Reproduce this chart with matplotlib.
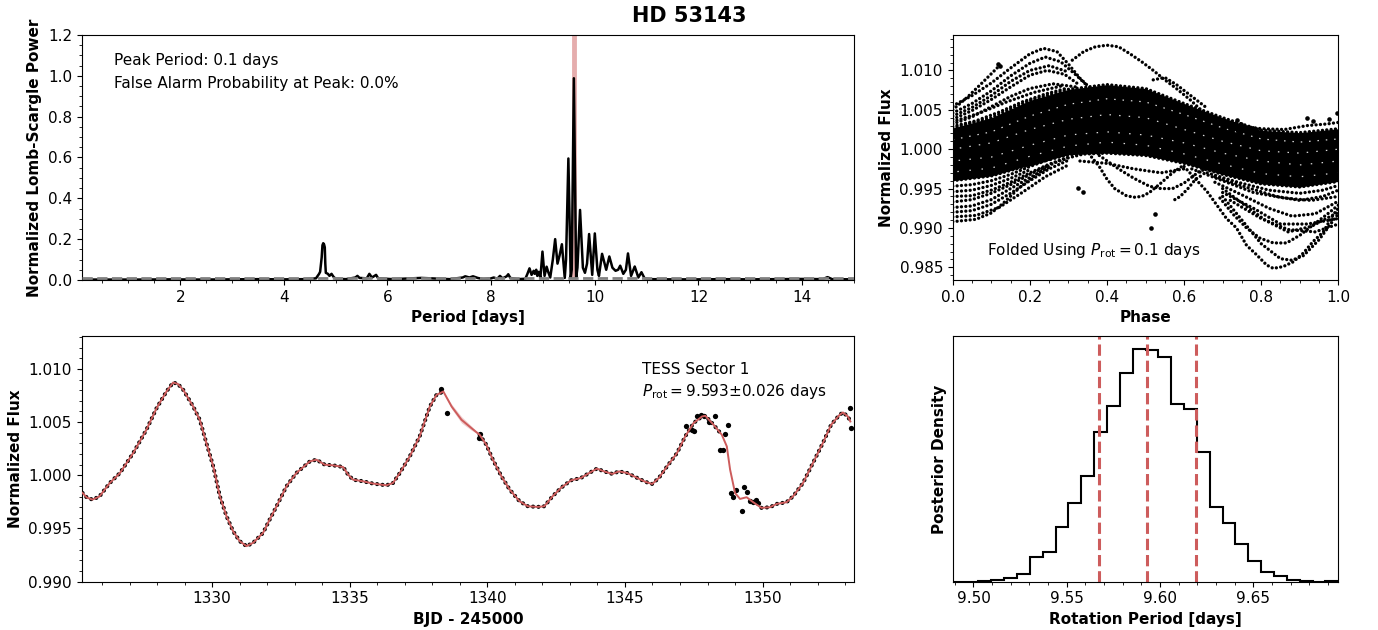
import numpy as np
import matplotlib
matplotlib.use("Agg")
import matplotlib.pyplot as plt
from matplotlib.ticker import AutoMinorLocator, FormatStrFormatter

# ---------------- data ----------------
star_name = "HD 53143"
peak_period_text = 0.1
fap_text = 0.0
prot = 9.593
prot_err = 0.026
prot_lo = 9.567
prot_hi = 9.619
fap_level = 0.01

# Lomb-Scargle periodogram (period [days], normalized power)
ls_period = [0.10, 0.6, 1.2, 1.8, 2.4, 3.0, 3.5, 4.0, 4.4, 4.62, 4.68, 4.70, 4.73, 4.745, 4.76,
             4.775, 4.79, 4.80, 4.81, 4.85, 4.88, 4.92, 4.96, 5.00, 5.2, 5.38, 5.42, 5.46, 5.60,
             5.65, 5.70, 5.75, 5.78, 5.82, 6.1, 6.65, 7.2, 7.45, 7.50, 7.58, 7.65, 7.74, 7.85,
             8.00, 8.05, 8.12, 8.17, 8.22, 8.30, 8.33, 8.37, 8.50, 8.66, 8.70, 8.74, 8.78, 8.82,
             8.84, 8.87, 8.89, 8.92, 8.95, 8.99, 9.03, 9.07, 9.10, 9.14, 9.19, 9.235, 9.28, 9.32,
             9.365, 9.42, 9.445, 9.49, 9.535, 9.555, 9.596, 9.64, 9.665, 9.715, 9.77, 9.81, 9.85,
             9.89, 9.95, 10.00, 10.05, 10.08, 10.14, 10.22, 10.28, 10.34, 10.40, 10.45, 10.49,
             10.55, 10.60, 10.64, 10.70, 10.77, 10.84, 10.90, 10.96, 11.05, 11.5, 12.0, 12.5,
             13.0, 13.5, 14.0, 14.4, 14.49, 14.58, 15.0]
ls_power = [0.002, 0.002, 0.002, 0.003, 0.002, 0.003, 0.004, 0.003, 0.004, 0.008, 0.03, 0.04,
            0.11, 0.17, 0.18, 0.175, 0.16, 0.08, 0.035, 0.03, 0.02, 0.03, 0.015, 0.006, 0.004,
            0.012, 0.02, 0.01, 0.008, 0.03, 0.012, 0.02, 0.025, 0.008, 0.004, 0.01, 0.004, 0.012,
            0.018, 0.012, 0.018, 0.01, 0.004, 0.008, 0.012, 0.006, 0.02, 0.008, 0.018, 0.028,
            0.01, 0.004, 0.006, 0.03, 0.057, 0.025, 0.045, 0.03, 0.05, 0.02, 0.04, 0.01, 0.139,
            0.02, 0.065, 0.04, 0.012, 0.10, 0.20, 0.08, 0.12, 0.175, 0.01, 0.10, 0.595, 0.01,
            0.05, 0.988, 0.01, 0.06, 0.343, 0.06, 0.035, 0.08, 0.225, 0.025, 0.228, 0.05, 0.02,
            0.128, 0.05, 0.115, 0.06, 0.045, 0.05, 0.07, 0.03, 0.05, 0.13, 0.02, 0.066, 0.012,
            0.038, 0.008, 0.004, 0.003, 0.003, 0.004, 0.003, 0.004, 0.005, 0.004, 0.014, 0.004,
            0.003]

# Light curve (BJD - 2450000, normalized flux) read along the data / GP model
lc_time = [1325.29, 1325.45, 1325.65, 1325.90, 1326.28, 1326.65, 1327.13, 1327.61, 1327.98,
           1328.34, 1328.58, 1328.75, 1328.95, 1329.31, 1329.55, 1329.79, 1330.04, 1330.28,
           1330.52, 1330.76, 1331.00, 1331.25, 1331.49, 1331.85, 1332.09, 1332.34, 1332.70,
           1333.06, 1333.55, 1333.79, 1334.09, 1334.39, 1334.76, 1334.94, 1335.12, 1335.48,
           1335.85, 1336.33, 1336.57, 1336.82, 1337.18, 1337.54, 1337.91, 1338.15, 1338.40,
           1338.70, 1339.06, 1339.42, 1339.72, 1339.96, 1340.20, 1340.51, 1340.81, 1341.17,
           1341.47, 1341.83, 1342.07, 1342.37, 1342.67, 1343.04, 1343.40, 1343.70, 1343.98,
           1344.24, 1344.54, 1344.78, 1345.08, 1345.45, 1345.75, 1345.99, 1346.23, 1346.53,
           1346.89, 1347.19, 1347.49, 1347.80, 1347.92, 1348.22, 1348.52, 1348.70, 1348.82,
           1349.00, 1349.18, 1349.42, 1349.66, 1349.96, 1350.27, 1350.51, 1350.87, 1351.11,
           1351.47, 1351.83, 1352.19, 1352.49, 1352.80, 1352.92, 1353.10, 1353.19]
lc_flux = [0.99834, 0.99790, 0.99772, 0.99800, 0.99928, 1.00022, 1.00209, 1.00428, 1.00631,
           1.00788, 1.00872, 1.00860, 1.00803, 1.00647, 1.00522, 1.00303, 1.00084, 0.99803,
           0.99616, 0.99475, 0.99381, 0.99334, 0.99366, 0.99459, 0.99584, 0.99709, 0.99897,
           1.00022, 1.00131, 1.00147, 1.00100, 1.00094, 1.00078, 1.00006, 0.99959, 0.99944,
           0.99922, 0.99906, 0.99928, 1.00022, 1.00178, 1.00366, 1.00647, 1.00756, 1.00788,
           1.00647, 1.00522, 1.00444, 1.00381, 1.00288, 1.00147, 0.99991, 0.99866, 0.99756,
           0.99709, 0.99703, 0.99709, 0.99803, 0.99881, 0.99953, 0.99975, 1.00022, 1.00063,
           1.00037, 1.00013, 1.00037, 1.00022, 0.99975, 0.99938, 0.99919, 0.99975, 1.00084,
           1.00209, 1.00366, 1.00491, 1.00553, 1.00560, 1.00475, 1.00381, 1.00272, 1.00053,
           0.99834, 0.99778, 0.99794, 0.99747, 0.99694, 0.99700, 0.99731, 0.99747, 0.99803,
           0.99928, 1.00116, 1.00303, 1.00475, 1.00569, 1.00591, 1.00553, 1.00506]
lc_gap = (1338.45, 1339.65)
lc_scatter_window = (1348.60, 1349.90)
lc_extra_time = [1338.30, 1338.52, 1339.68, 1339.75, 1347.20, 1347.42, 1347.50, 1347.62, 1347.78,
                 1347.86, 1348.07, 1348.28, 1348.45, 1348.55, 1348.65, 1348.76, 1348.84, 1348.94,
                 1349.04, 1349.24, 1349.34, 1349.45, 1349.55, 1349.64, 1349.76, 1349.85,
                 1353.16, 1353.22]
lc_extra_flux = [1.00813, 1.00584, 1.00350, 1.00385, 1.00460, 1.00428, 1.00420, 1.00553, 1.00570,
                 1.00560, 1.00500, 1.00553, 1.00240, 1.00240, 1.00390, 1.00475, 0.99834, 0.99800,
                 0.99859, 0.99663, 0.99887, 0.99840, 0.99756, 0.99745, 0.99772, 0.99740,
                 1.00637, 1.00444]
gp_band_time = [1338.40, 1338.70, 1339.06, 1339.42, 1339.72]
gp_band_sigma = [0.00004, 0.00022, 0.00030, 0.00020, 0.00004]

# Folded light curve: dense core envelope, individual tracks, isolated points
fold_core_phase = [0.0, 0.1, 0.2, 0.3, 0.4, 0.5, 0.6, 0.7, 0.8, 0.9, 1.0]
fold_core_upper = [1.0027, 1.0040, 1.0062, 1.0076, 1.0082, 1.0077, 1.0058, 1.0040, 1.0024, 1.0021, 1.0026]
fold_core_lower = [0.9960, 0.9966, 0.9980, 0.9993, 0.9995, 0.9992, 0.9982, 0.9968, 0.9956, 0.9952, 0.9959]
# faint white gaps between tracks inside the dense core
fold_gap_flux = [
    [1.0012, 1.0022, 1.0042, 1.0057, 1.0064, 1.0060, 1.0044, 1.0027, 1.0013, 1.0009, 1.0013],
    [1.0000, 1.0008, 1.0025, 1.0038, 1.0044, 1.0040, 1.0025, 1.0010, 0.9998, 0.9995, 1.0000],
    [0.9985, 0.9990, 1.0005, 1.0018, 1.0022, 1.0018, 1.0008, 0.9995, 0.9985, 0.9980, 0.9985],
    [0.9971, 0.9976, 0.9991, 1.0004, 1.0009, 1.0005, 0.9994, 0.9981, 0.9969, 0.9965, 0.9970],
]

fold_track_phase = [
    [0.31, 0.34, 0.37, 0.40, 0.43, 0.46, 0.49, 0.52, 0.55, 0.58, 0.615, 0.65, 0.70, 0.74],
    [0.52, 0.55, 0.58, 0.62, 0.66],
    [0.0, 0.05, 0.1, 0.15, 0.2, 0.235, 0.27, 0.30, 0.33, 0.36],
    [0.0, 0.05, 0.1, 0.15, 0.2, 0.24, 0.28, 0.32, 0.35],
    [0.0, 0.05, 0.1, 0.15, 0.2, 0.245, 0.29, 0.33],
    [0.0, 0.05, 0.1, 0.15, 0.2, 0.26, 0.32],
    [0.0, 0.04, 0.08, 0.123],
    [0.0, 0.06, 0.12, 0.18, 0.24, 0.30],
    [0.0, 0.05, 0.1, 0.15, 0.2, 0.25, 0.3],
    [0.0, 0.07, 0.14, 0.21, 0.28],
    [0.0, 0.06, 0.1, 0.13, 0.175, 0.22, 0.26, 0.30, 0.34],
    [0.0, 0.05, 0.1, 0.15, 0.2, 0.25, 0.30],
    [0.0, 0.05, 0.1, 0.15, 0.2, 0.25],
    [0.0, 0.05, 0.1, 0.15, 0.2],
    [0.0, 0.05, 0.1, 0.15, 0.2, 0.25],
    [0.0, 0.05, 0.1, 0.15, 0.2, 0.25, 0.3],
    [0.0, 0.05, 0.1, 0.15, 0.2, 0.25],
    [0.0, 0.06, 0.12, 0.18, 0.24, 0.3],
    [0.36, 0.38, 0.40, 0.42, 0.45, 0.47, 0.49, 0.51, 0.54, 0.57, 0.60],
    [0.38, 0.43, 0.47, 0.51, 0.54, 0.57, 0.60, 0.64, 0.68],
    [0.576, 0.59, 0.61, 0.63, 0.65],
    [0.33, 0.40, 0.47, 0.54, 0.60],
    [0.60, 0.63, 0.66, 0.685, 0.71, 0.736, 0.762, 0.788, 0.814, 0.8315, 0.857, 0.883, 0.909,
     0.935, 0.961, 0.987, 1.0],
    [0.70, 0.75, 0.80, 0.85, 0.88, 0.91, 0.95, 0.98, 1.0],
    [0.693, 0.728, 0.762, 0.797, 0.8315, 0.866, 0.901, 0.935, 0.97, 1.0],
    [0.70, 0.76, 0.81, 0.87, 0.93, 1.0],
    [0.68, 0.75, 0.82, 0.88, 0.94, 1.0],
    [0.68, 0.76, 0.84, 0.90, 0.96, 1.0],
    [0.66, 0.74, 0.82, 0.90, 0.96, 1.0],
    [0.62, 0.70, 0.78, 0.86, 0.93, 1.0],
    [0.70, 0.78, 0.85, 0.92, 1.0],
    [0.72, 0.80, 0.87, 0.94, 1.0],
    [0.74, 0.80, 0.86, 0.92, 0.97, 1.0],
]
fold_track_flux = [
    [1.0113, 1.0124, 1.0130, 1.0132, 1.0130, 1.0121, 1.0111, 1.0100, 1.0088, 1.0077, 1.0063,
     1.0047, 1.0030, 1.0023],
    [1.0088, 1.0091, 1.0082, 1.0067, 1.0052],
    [1.0055, 1.0068, 1.0084, 1.0103, 1.0121, 1.0128, 1.0124, 1.0108, 1.0090, 1.0076],
    [1.0046, 1.0058, 1.0074, 1.0093, 1.0109, 1.0117, 1.0111, 1.0094, 1.0080],
    [1.0038, 1.0049, 1.0063, 1.0079, 1.0094, 1.0100, 1.0095, 1.0081],
    [1.0032, 1.0041, 1.0054, 1.0067, 1.0077, 1.0083, 1.0079],
    [1.0050, 1.0067, 1.0086, 1.0107],
    [1.0029, 1.0036, 1.0047, 1.0060, 1.0070, 1.0078],
    [1.0042, 1.0053, 1.0068, 1.0086, 1.0100, 1.0106, 1.0098],
    [1.0035, 1.0046, 1.0060, 1.0072, 1.0080],
    [0.9908, 0.9911, 0.9919, 0.9931, 0.9952, 0.9969, 0.9982, 0.9989, 0.9994],
    [0.9920, 0.9922, 0.9930, 0.9944, 0.9960, 0.9975, 0.9986],
    [0.9933, 0.9936, 0.9944, 0.9955, 0.9968, 0.9980],
    [0.9946, 0.9948, 0.9954, 0.9963, 0.9974],
    [0.9953, 0.9955, 0.9960, 0.9968, 0.9978, 0.9987],
    [0.9940, 0.9941, 0.9948, 0.9958, 0.9970, 0.9981, 0.9990],
    [0.9926, 0.9928, 0.9936, 0.9950, 0.9964, 0.9977],
    [0.9914, 0.9916, 0.9926, 0.9945, 0.9965, 0.9980],
    [0.9990, 0.9978, 0.9962, 0.9950, 0.9941, 0.9939, 0.9940, 0.9945, 0.9957, 0.9970, 0.9980],
    [0.9992, 0.9975, 0.9963, 0.9953, 0.9950, 0.9950, 0.9957, 0.9972, 0.9978],
    [0.9936, 0.9940, 0.9950, 0.9962, 0.9968],
    [0.9985, 0.9982, 0.9975, 0.9970, 0.9975],
    [0.9978, 0.9962, 0.9946, 0.9929, 0.9912, 0.9900, 0.9878, 0.9866, 0.9853, 0.98487, 0.9851,
     0.9857, 0.9868, 0.9883, 0.9895, 0.9917, 0.9925],
    [0.9940, 0.9910, 0.9880, 0.9861, 0.9859, 0.9865, 0.9885, 0.9905, 0.9918],
    [0.9938, 0.9917, 0.9900, 0.9887, 0.9881, 0.9881, 0.9891, 0.9904, 0.9917, 0.9929],
    [0.9950, 0.9928, 0.9910, 0.9895, 0.9902, 0.9920],
    [0.9958, 0.9942, 0.9925, 0.9915, 0.9918, 0.9934],
    [0.9965, 0.9952, 0.9940, 0.9935, 0.9940, 0.9948],
    [0.9970, 0.9958, 0.9948, 0.9944, 0.9948, 0.9954],
    [0.9975, 0.9960, 0.9945, 0.9938, 0.9935, 0.9940],
    [0.9945, 0.9925, 0.9905, 0.9905, 0.9912],
    [0.9935, 0.9912, 0.9898, 0.9895, 0.9905],
    [1.0030, 1.0026, 1.0025, 1.0030, 1.0032, 1.0034],
]
fold_pts_phase = [0.118, 0.123, 0.326, 0.339, 0.514, 0.525, 0.736, 0.748, 0.918, 0.935, 0.975, 0.996]
fold_pts_flux = [1.0108, 1.0106, 0.9951, 0.9946, 0.9900, 0.9918, 1.0037, 1.0032, 1.0039, 1.0036,
                 1.0038, 1.0046]

# Posterior histogram of rotation period
hist_range = (9.4889, 9.6955)
hist_counts = [0, 0.5, 2, 4, 12, 24, 75, 90, 165, 235, 318, 448, 527, 627, 699, 696, 675, 533,
               518, 390, 225, 175, 113, 63, 30, 16, 5, 1, 0, 3]

# ---------------- figure ----------------
plt.rcParams["font.family"] = ["DejaVu Sans"]
plt.rcParams["font.size"] = 11
plt.rcParams["mathtext.fontset"] = "dejavusans"

fig = plt.figure(figsize=(13.78, 6.3), dpi=100)
ax_ls = fig.add_axes([0.0593, 0.5556, 0.5604, 0.3889])
ax_fold = fig.add_axes([0.6914, 0.5556, 0.2798, 0.3889])
ax_lc = fig.add_axes([0.0593, 0.0767, 0.5604, 0.3900])
ax_post = fig.add_axes([0.6914, 0.0767, 0.2798, 0.3900])

fig.text(0.5, 0.974, star_name, ha="center", va="center", fontsize=15, fontweight="bold")

red = "indianred"


def dotted(ax, x, y, lw=2.4, gap=1.3, zorder=2):
    ax.plot(x, y, color="k", lw=lw, linestyle=(0, (0.01, gap)),
            dash_capstyle="round", zorder=zorder)


# --- periodogram ---
ax_ls.axvline(prot, color=red, alpha=0.5, lw=3.5, zorder=1)
ax_ls.plot(ls_period, ls_power, color="k", lw=1.8, zorder=2)
ax_ls.axhline(fap_level, color="gray", ls="--", lw=2, zorder=3)
ax_ls.set_xlim(0.1, 15)
ax_ls.set_ylim(0, 1.2)
ax_ls.set_xticks([2, 4, 6, 8, 10, 12, 14])
ax_ls.set_yticks([0.0, 0.2, 0.4, 0.6, 0.8, 1.0, 1.2])
ax_ls.yaxis.set_major_formatter(FormatStrFormatter("%.1f"))
ax_ls.set_xlabel("Period [days]", fontweight="bold")
ax_ls.set_ylabel("Normalized Lomb-Scargle Power", fontweight="bold")
ax_ls.text(0.042, 0.894, f"Peak Period: {peak_period_text} days", transform=ax_ls.transAxes,
           va="center", ha="left")
ax_ls.text(0.042, 0.80, f"False Alarm Probability at Peak: {fap_text}%", transform=ax_ls.transAxes,
           va="center", ha="left")

# --- folded light curve ---
ax_fold.fill_between(fold_core_phase, fold_core_lower, fold_core_upper, color="k", lw=0, zorder=1)
for k, gf in enumerate(fold_gap_flux):
    ax_fold.plot(fold_core_phase, gf, color="white", lw=0.9, alpha=0.85,
                 linestyle=(k * 2.0, (1.2, 5.5 + k)), zorder=1.5)
dotted(ax_fold, fold_core_phase, fold_core_upper)
dotted(ax_fold, fold_core_phase, fold_core_lower)
for ph, fl in zip(fold_track_phase, fold_track_flux):
    dotted(ax_fold, ph, fl)
ax_fold.plot(fold_pts_phase, fold_pts_flux, "o", color="k", ms=3.3, mew=0)
ax_fold.set_xlim(0, 1)
ax_fold.set_ylim(0.9834, 1.0145)
ax_fold.set_xticks([0.0, 0.2, 0.4, 0.6, 0.8, 1.0])
ax_fold.set_yticks([0.985, 0.990, 0.995, 1.000, 1.005, 1.010])
ax_fold.xaxis.set_major_formatter(FormatStrFormatter("%.1f"))
ax_fold.yaxis.set_major_formatter(FormatStrFormatter("%.3f"))
ax_fold.set_xlabel("Phase", fontweight="bold")
ax_fold.set_ylabel("Normalized Flux", fontweight="bold")
ax_fold.text(0.088, 0.122, r"Folded Using $P_{\rm rot} = $" + f"{peak_period_text} days",
             transform=ax_fold.transAxes, va="center", ha="left")

# --- light curve ---
t = np.asarray(lc_time)
f = np.asarray(lc_flux)
hide = ((t > lc_gap[0]) & (t < lc_gap[1])) | ((t > lc_scatter_window[0]) & (t < lc_scatter_window[1]))
dotted(ax_lc, t, np.where(hide, np.nan, f), lw=3.0, gap=1.3, zorder=2)
ax_lc.plot(lc_extra_time, lc_extra_flux, "o", color="k", ms=3.8, mew=0, zorder=2)
bt = np.asarray(gp_band_time)
bm = np.interp(bt, t, f)
bs = np.asarray(gp_band_sigma)
ax_lc.fill_between(bt, bm - bs, bm + bs, color=red, alpha=0.3, lw=0, zorder=3)
ax_lc.plot(t, f, color=red, lw=1.4, zorder=4)
ax_lc.set_xlim(1325.26, 1353.32)
ax_lc.set_ylim(0.990, 1.0131)
ax_lc.set_xticks([1330, 1335, 1340, 1345, 1350])
ax_lc.set_yticks([0.990, 0.995, 1.000, 1.005, 1.010])
ax_lc.yaxis.set_major_formatter(FormatStrFormatter("%.3f"))
ax_lc.set_xlabel("BJD - 245000", fontweight="bold")
ax_lc.set_ylabel("Normalized Flux", fontweight="bold")
ax_lc.text(0.726, 0.864, "TESS Sector 1", transform=ax_lc.transAxes, va="center", ha="left")
ax_lc.text(0.726, 0.773, r"$P_{\rm rot} = $" + f"{prot:.3f}\u00b1{prot_err:.3f} days",
           transform=ax_lc.transAxes, va="center", ha="left")

# --- posterior ---
edges = np.linspace(hist_range[0], hist_range[1], len(hist_counts) + 1)
ax_post.stairs(hist_counts, edges, color="k", lw=1.5)
for v in (prot_lo, prot, prot_hi):
    ax_post.axvline(v, color=red, ls="--", lw=2.2)
ax_post.set_xlim(hist_range)
ax_post.set_ylim(0, max(hist_counts) * 1.054)
ax_post.set_xticks([9.50, 9.55, 9.60, 9.65])
ax_post.xaxis.set_major_formatter(FormatStrFormatter("%.2f"))
ax_post.set_yticks([])
ax_post.set_xlabel("Rotation Period [days]", fontweight="bold")
ax_post.set_ylabel("Posterior Density", fontweight="bold")

for ax in (ax_ls, ax_fold, ax_lc):
    ax.xaxis.set_minor_locator(AutoMinorLocator())
    ax.yaxis.set_minor_locator(AutoMinorLocator())
ax_post.xaxis.set_minor_locator(AutoMinorLocator())

fig.savefig("out.png", dpi=100)
